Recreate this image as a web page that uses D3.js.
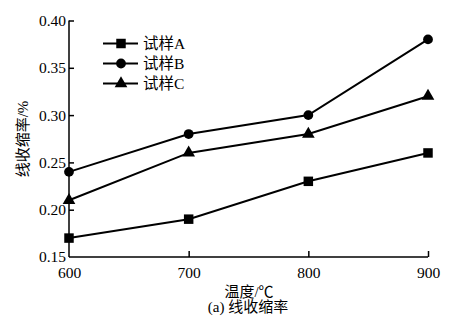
<!DOCTYPE html>
<html><head><meta charset="utf-8">
<script src="https://cdn.jsdelivr.net/npm/d3@7"></script>
<style>body{margin:0;background:#fff}svg{display:block}</style>
</head><body>
<script>
const temps = [600, 700, 800, 900];
const seriesNames = ["试样A", "试样B", "试样C"];
const seriesA = [0.17, 0.19, 0.23, 0.26];
const seriesB = [0.24, 0.28, 0.30, 0.38];
const seriesC = [0.21, 0.26, 0.28, 0.32];
const yTicks = [0.15, 0.20, 0.25, 0.30, 0.35, 0.40];
const markers = ["square", "circle", "triangle"];
const xTitle = "温度/℃";
const yTitle = "线收缩率/%";
const caption = "(a) 线收缩率";

const W = 454, H = 329;
const svg = d3.select("body").append("svg").attr("width", W).attr("height", H);
const numFont = "'Liberation Serif','Times New Roman',serif";
const cjkFont = "'Liberation Serif','Noto Sans CJK SC',serif";

const x = d3.scaleLinear().domain([600, 900]).range([69, 428]);
const y = d3.scaleLinear().domain([0.15, 0.40]).range([257, 20.5]);

// axes
const xAxis = d3.axisBottom(x).tickValues(temps).tickSize(-6).tickPadding(10).tickFormat(d3.format("d"));
const gx = svg.append("g").attr("transform", `translate(0,${y(0.15)})`).call(xAxis);
gx.select(".domain").attr("d", `M${x(600)},0H${x(900)}`);
const yAxis = d3.axisLeft(y).tickValues(yTicks).tickSize(-5).tickPadding(3).tickFormat(d3.format(".2f"));
const gy = svg.append("g").attr("transform", `translate(${x(600)},0)`).call(yAxis);
gy.select(".domain").attr("d", `M0,${y(0.15)}V${y(0.40)}`);
[gx, gy].forEach(g => {
  g.selectAll(".domain, .tick line").attr("stroke", "#000").attr("stroke-width", 1.5);
  g.selectAll("text").attr("font-family", numFont).attr("font-size", 15.5).attr("fill", "#000");
});
gx.selectAll(".tick").filter(d => d === 600).select("line").remove();
gy.selectAll(".tick").filter(d => d === 0.15).select("line").remove();

const data = [seriesA, seriesB, seriesC];
const sym = {
  square: d3.symbol().type(d3.symbolSquare).size(90),
  circle: d3.symbol().type(d3.symbolCircle).size(75),
  triangle: d3.symbol().type(d3.symbolTriangle).size(70)
};
const line = d3.line().x((d, i) => x(temps[i])).y(d => y(d));
data.forEach((s, k) => {
  svg.append("path").attr("d", line(s)).attr("fill", "none").attr("stroke", "#000").attr("stroke-width", 2);
  svg.selectAll(null).data(s).enter().append("path")
    .attr("d", sym[markers[k]])
    .attr("transform", (d, i) => `translate(${x(temps[i])},${y(d)})`)
    .attr("fill", "#000");
});

// legend
const lg = svg.append("g");
seriesNames.forEach((n, k) => {
  const ly = 43.5 + k * 20;
  lg.append("line").attr("x1", 103).attr("x2", 138).attr("y1", ly).attr("y2", ly).attr("stroke", "#000").attr("stroke-width", 2);
  lg.append("path").attr("d", sym[markers[k]]).attr("transform", `translate(121,${ly})`).attr("fill", "#000");
  lg.append("text").attr("x", 143).attr("y", ly + 5.5).attr("font-family", cjkFont).attr("font-size", 15.5).text(n);
});

// titles
svg.append("text").attr("x", 249).attr("y", 297).attr("text-anchor", "middle")
  .attr("font-family", cjkFont).attr("font-size", 15).text(xTitle);
svg.append("text").attr("x", 248).attr("y", 312).attr("text-anchor", "middle")
  .attr("font-family", cjkFont).attr("font-size", 15).text(caption);
svg.append("text").attr("transform", "translate(28,139) rotate(-90)").attr("text-anchor", "middle")
  .attr("font-family", cjkFont).attr("font-size", 15).text(yTitle);
</script>
</body></html>
